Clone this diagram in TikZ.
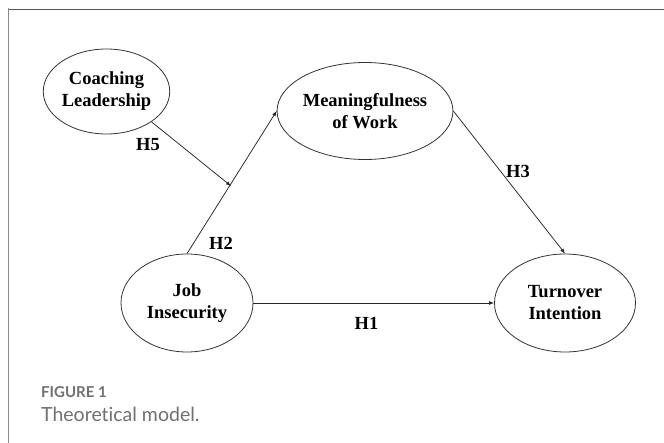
\documentclass[tikz,border=0pt]{standalone}
\usepackage{fontspec}
\setmainfont{Liberation Serif}
\newfontfamily\capfont[Ligatures=NoCommon]{Lato}
\usetikzlibrary{shapes.geometric}
\definecolor{framegray}{HTML}{555555}
\definecolor{sidegray}{HTML}{8A8A8A}
\definecolor{capgray}{HTML}{707070}
\tikzset{
  construct/.style={ellipse, draw=black!80, line width=.8pt, inner sep=0pt, align=center,
    font=\fontsize{18.5}{22}\selectfont\bfseries},
  hyp/.style={font=\fontsize{18.5}{22}\selectfont\bfseries},
  path/.style={->, line width=.75pt, draw=black!85}
}
\begin{document}
\begin{tikzpicture}[>=latex, x=1pt, y=-1pt]
\useasboundingbox (0,0) rectangle (664,443);
% frame
\draw[framegray, line width=1.3pt] (8,9.2)--(664,9.2);
\draw[sidegray, line width=1.5pt] (8.7,8.5)--(8.7,443);

\node[construct, minimum width=120pt, minimum height=85pt] (coach) at (106.5,91.5) {Coaching\\Leadership};
\node[construct, minimum width=132pt, minimum height=97pt] (mean) at (365,111) {Meaningfulness\\of Work};
\node[construct, minimum width=132pt, minimum height=98pt] (job) at (187,303) {Job\\Insecurity};
\node[construct, minimum width=141pt, minimum height=98pt] (turn) at (565,303) {Turnover\\Intention};

\coordinate (modpt) at (231,186);
\draw[path] (job.north)--(mean.west);
\draw[path] (mean.east)--(turn.north);
\draw[path] (job.east)--(turn.west);
\draw[path] (coach.south east)--(modpt);

\node[hyp] (h5) at (148,145) {H5};
\node[hyp] (h2) at (221,243) {H2};
\node[hyp] (h3) at (518,171) {H3};
\node[hyp] (h1) at (366.5,323) {H1};

% caption
\node[anchor=west, inner sep=0pt, text=capgray, font=\capfont\bfseries\fontsize{15}{18}\selectfont] (fig) at (41,392) {FIGURE 1};
\node[anchor=west, inner sep=0pt, text=capgray, font=\capfont\fontsize{19.5}{23}\selectfont] (cap) at (41,414) {Theoretical model.};
\end{tikzpicture}
\end{document}
